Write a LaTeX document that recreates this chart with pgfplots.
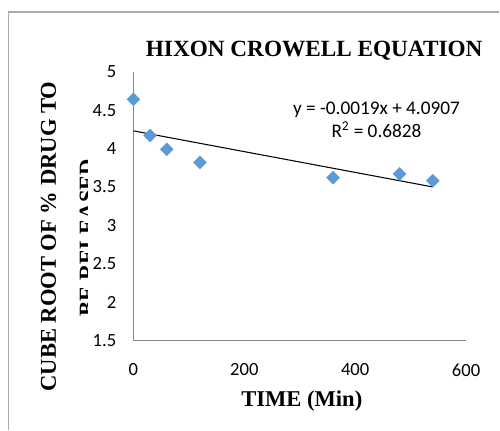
\documentclass[border=0pt]{standalone}
\usepackage{pgfplots}
\pgfplotsset{compat=1.18}
\usepackage{fontspec}
\setmainfont{Carlito}
\newfontfamily\serif{Liberation Serif}
\definecolor{axgray}{RGB}{134,134,134}
\definecolor{bordergray}{RGB}{170,170,170}
\definecolor{mblue}{RGB}{91,155,213}
\begin{document}
\begin{tikzpicture}
\path (0,0) rectangle (375pt,324pt);
% outer chart border
\draw[bordergray, line width=1.1pt] (6.4pt,0pt) -- (6.4pt,315pt) -- (376pt,315pt);
\begin{axis}[
  at={(100.5pt,67.5pt)}, anchor=south west,
  scale only axis, width=250.5pt, height=202.5pt,
  xmin=0, xmax=600, ymin=1.5, ymax=5,
  xtick={0,200,400,600},
  ytick={1.5,2,2.5,3,3.5,4,4.5,5},
  axis x line*=bottom, axis y line*=left,
  axis line style={axgray, line width=0.9pt, -},
  major tick length=0pt,
  tick style={draw=none},
  /pgf/number format/assume math mode=true,
  ticklabel style={font=\fontsize{14pt}{16pt}\selectfont, inner sep=0pt},
  xticklabel style={anchor=center, yshift=-22pt},
  yticklabel style={anchor=east, xshift=-12.75pt},
  yticklabel={\pgfmathprintnumber[fixed,precision=1]{\tick}},
  clip=false,
]
\addplot[black, line width=0.8pt] coordinates {(0,4.23) (540,3.50)};
\addplot[only marks, mark=square*, mark size=3.4pt, mark options={rotate=45, fill=mblue, draw=mblue}]
  coordinates {(0,4.64) (30,4.17) (60,3.99) (120,3.82) (360,3.62) (480,3.67) (540,3.58)};
\end{axis}
% title
\node[anchor=base, inner sep=0pt, font=\serif\bfseries\fontsize{17.5pt}{20pt}\selectfont] at (236.6pt,281.25pt) {HIXON CROWELL EQUATION};
% x label
\node[anchor=base, inner sep=0pt, font=\serif\bfseries\fontsize{17pt}{20pt}\selectfont] at (227.25pt,18pt) {TIME (Min)};
% y label
\node[anchor=base, rotate=90, inner sep=0pt, font=\serif\bfseries\fontsize{17pt}{20pt}\selectfont] at (42pt,145.9pt) {CUBE ROOT OF \% DRUG TO};
\begin{scope}
\clip (0pt,0pt) rectangle (66pt,324pt);
\node[anchor=base, rotate=90, inner sep=0pt, font=\serif\bfseries\fontsize{17pt}{20pt}\selectfont] at (71.25pt,145.1pt) {BE RELEASED};
\end{scope}
% equation
\node[anchor=base, inner sep=0pt, font=\fontsize{14.5pt}{17pt}\selectfont] at (283.5pt,237.75pt) {y = -0.0019x + 4.0907};
\node[anchor=base, inner sep=0pt, font=\fontsize{14.5pt}{17pt}\selectfont] at (283.5pt,220.5pt) {R\textsuperscript{2} = 0.6828};
\end{tikzpicture}
\end{document}
